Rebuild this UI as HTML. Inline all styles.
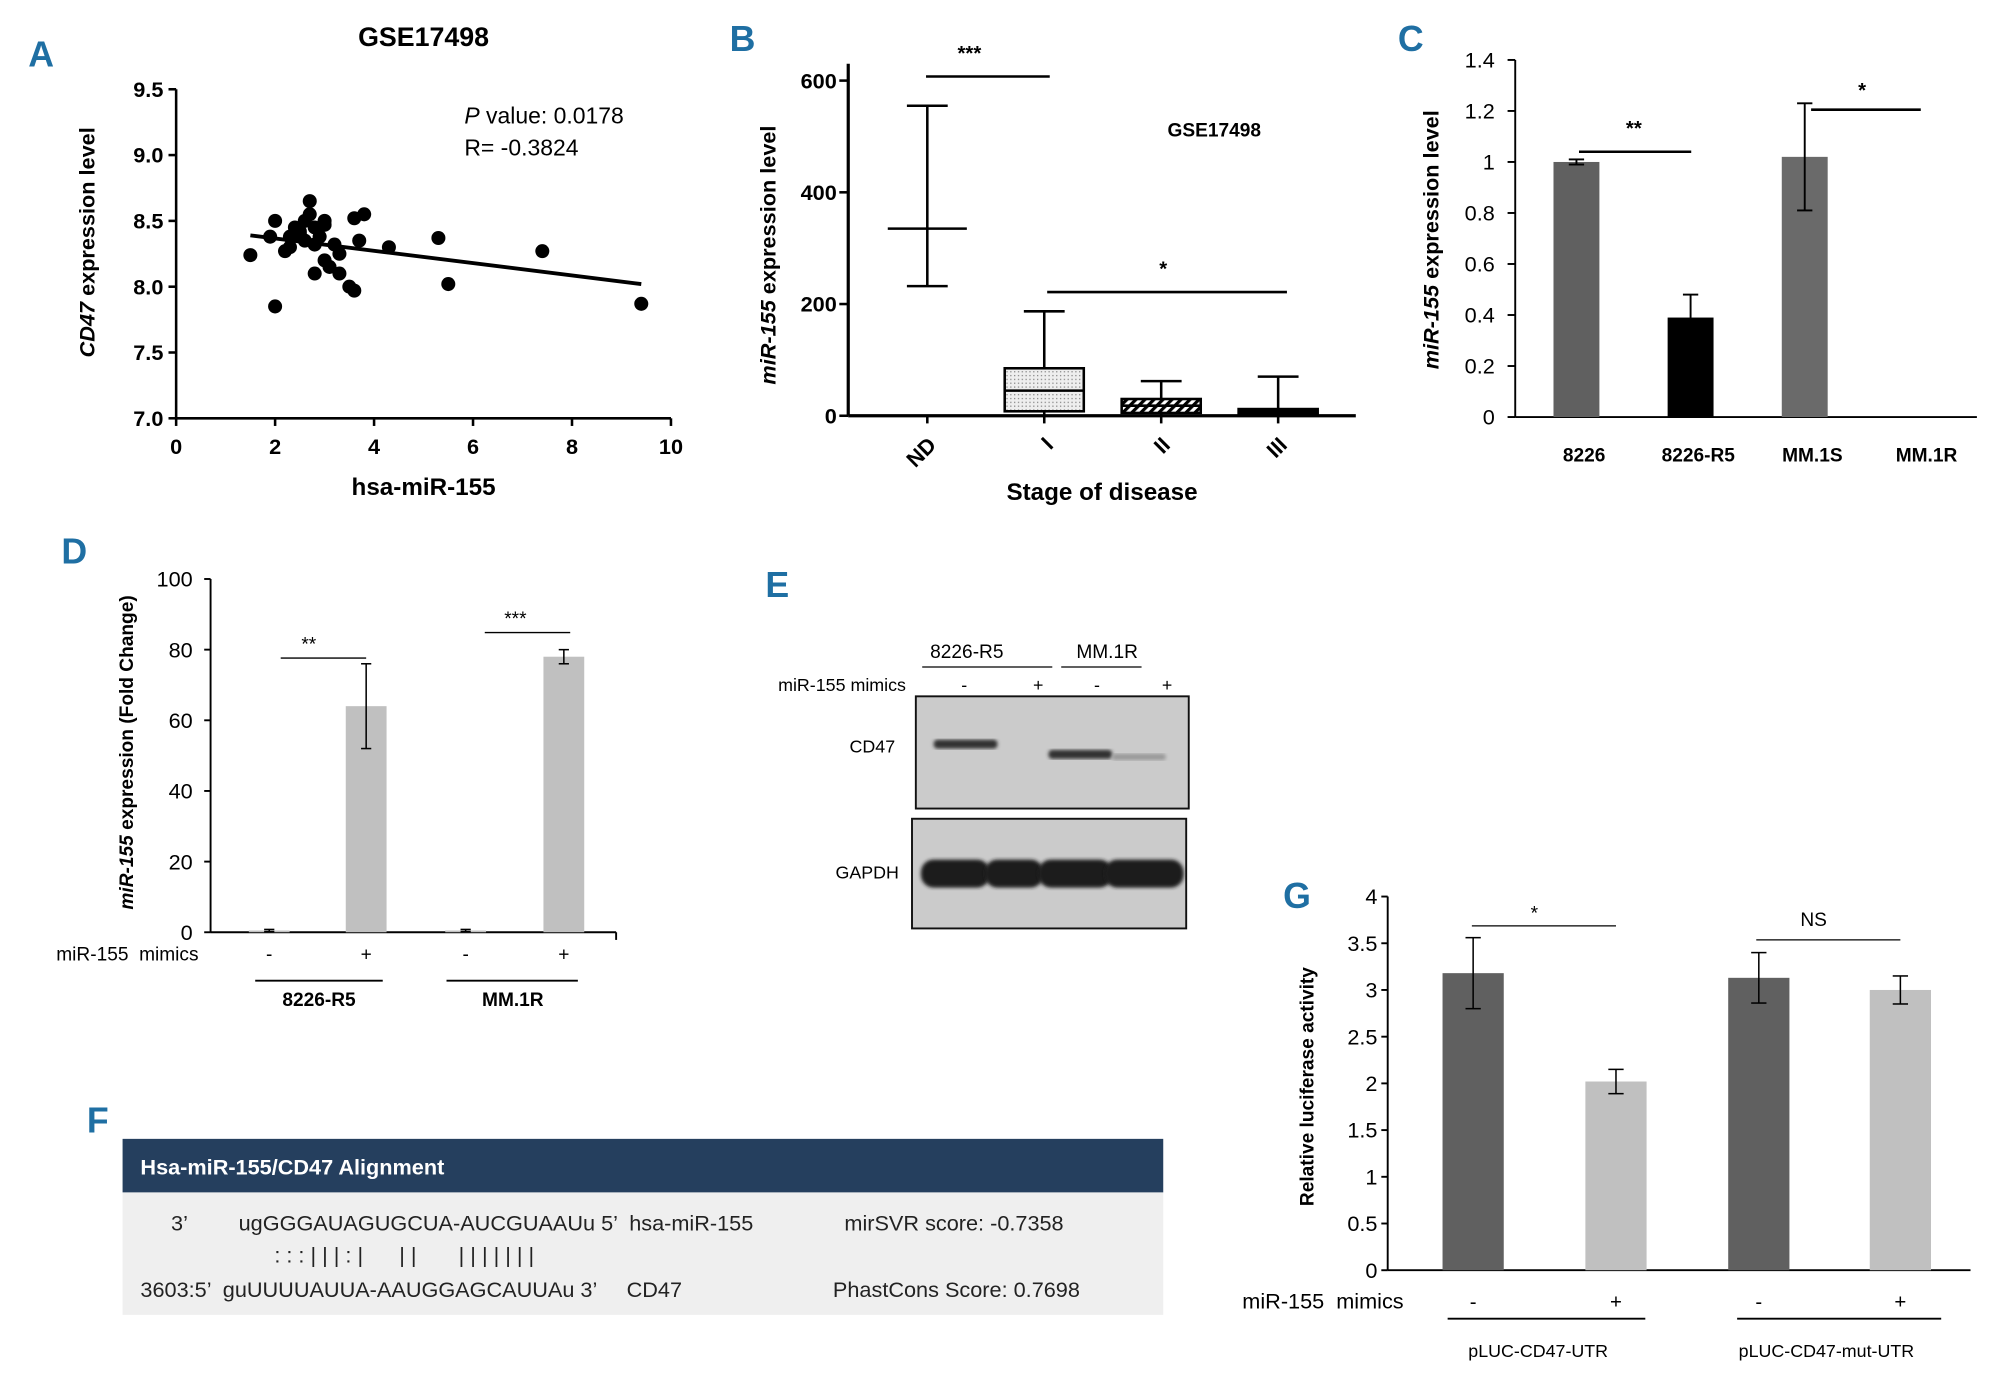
<!DOCTYPE html>
<html><head><meta charset="utf-8"><style>
html,body{margin:0;padding:0;background:#fff}
svg{display:block;font-family:"Liberation Sans",sans-serif}
svg text{white-space:pre}
.pl{fill:#1f6fa3;font-weight:bold;font-size:28px}
.tk{font-size:16px}
</style></head><body>
<svg id="fig" width="2000" height="1385" viewBox="0 0 1568 1086" xmlns="http://www.w3.org/2000/svg">
<g id="A"></g>
<g id="B"></g>
<g id="C"></g>
<g id="D"></g>
<g id="E"></g>
<g id="F"></g>
<g id="G"></g>
</svg>
<script>
// Panel A data
const aX=[1.5,1.9,2.0,2.0,2.2,2.3,2.4,2.5,2.6,2.6,2.7,2.8,2.8,2.7,2.9,3.0,3.0,3.0,2.8,3.1,3.2,3.3,3.3,3.5,3.6,3.7,3.6,3.8,4.3,5.3,5.5,7.4,9.4,2.5,2.3];
const aY=[8.24,8.38,8.5,7.85,8.27,8.3,8.45,8.4,8.5,8.35,8.55,8.45,8.32,8.65,8.38,8.5,8.47,8.2,8.1,8.15,8.32,8.25,8.1,8.0,7.97,8.35,8.52,8.55,8.3,8.37,8.02,8.27,7.87,8.42,8.38];
const aFitX=[1.5,9.4];
const aFitY=[8.39,8.02];
const aXTicks=[0,2,4,6,8,10];
const aYTicks=[7.0,7.5,8.0,8.5,9.0,9.5];
// Panel B data
const bCats=["ND","I","II","III"];
const bLow=[232,0,0,0];
const bQ1=[335,8,5,0];
const bMed=[335,45,18,5];
const bQ3=[335,85,30,12];
const bHigh=[555,187,62,70];
const bTicks=[0,200,400,600];
// Panel C data
const cCats=["8226","8226-R5","MM.1S","MM.1R"];
const cVals=[1.0,0.39,1.02,0];
const cErr=[0.01,0.09,0.21,0];
const cTicks=[0,0.2,0.4,0.6,0.8,1,1.2,1.4];
// Panel D data
const dVals=[0.5,64,0.5,78];
const dErr=[0.3,12,0.3,2];
const dSigns=["-","+","-","+"];
const dTicks=[0,20,40,60,80,100];
// Panel G data
const gVals=[3.18,2.02,3.13,3.0];
const gErr=[0.38,0.13,0.27,0.15];
const gSigns=["-","+","-","+"];
const gTicks=[0,0.5,1,1.5,2,2.5,3,3.5,4];

const NS="http://www.w3.org/2000/svg";
function mk(p,tag,at,txt){const e=document.createElementNS(NS,tag);for(const k in at)e.setAttribute(k,at[k]);if(txt!==undefined)e.textContent=txt;p.appendChild(e);return e;}
function ln(p,x1,y1,x2,y2,w,c){return mk(p,'line',{x1,y1,x2,y2,stroke:c||'#000','stroke-width':w||1.5});}
function fmt(v){return String(v);}

// ---------- A ----------
(function(){const g=document.getElementById('A');
const X=v=>138+v*38.8, Y=v=>328-(v-7)*103.2;
let t=mk(g,'text',{x:22,y:52,class:'pl'},'A');
t=mk(g,'text',{x:332,y:36,'font-size':21,'font-weight':'bold','text-anchor':'middle'},'GSE17498');
ln(g,138,70,138,328,2);ln(g,138,328,526,328,2);
aYTicks.forEach(v=>{ln(g,132,Y(v),138,Y(v),2);let e=mk(g,'text',{x:128,y:Y(v)+6,'text-anchor':'end','font-size':17,'font-weight':'bold'},v.toFixed(1));});
aXTicks.forEach(v=>{ln(g,X(v),328,X(v),334,2);let e=mk(g,'text',{x:X(v),y:356,'text-anchor':'middle','font-size':17,'font-weight':'bold'},fmt(v));});
t=mk(g,'text',{x:332,y:388,'font-size':19,'font-weight':'bold','text-anchor':'middle'},'hsa-miR-155');
t=mk(g,'text',{transform:'translate(74,190) rotate(-90)','font-size':17,'font-weight':'bold','text-anchor':'middle'});t.innerHTML='<tspan font-style="italic">CD47</tspan> expression level';
let f=ln(g,X(aFitX[0]),Y(aFitY[0]),X(aFitX[1]),Y(aFitY[1]),3);
aX.forEach((v,i)=>{let c=mk(g,'circle',{cx:X(v),cy:Y(aY[i]),r:5.5,fill:'#000'});});
t=mk(g,'text',{x:364,y:97,'font-size':18});t.innerHTML='<tspan font-style="italic">P</tspan> value: 0.0178';
t=mk(g,'text',{x:364,y:122,'font-size':18},'R= -0.3824');
})();

// ---------- B ----------
(function(){const g=document.getElementById('B');
const Y=v=>326-v*0.438, XC=i=>727+i*91.7;
let t=mk(g,'text',{x:572,y:40,class:'pl'},'B');
mk(g,'defs',{}).innerHTML='<pattern id="dots" width="3" height="3" patternUnits="userSpaceOnUse"><rect width="3" height="3" fill="#eee"/><rect width="1" height="1" fill="#888"/></pattern><pattern id="hatch" width="5" height="5" patternUnits="userSpaceOnUse" patternTransform="rotate(45)"><rect width="5" height="5" fill="#fff"/><rect width="2.5" height="5" fill="#000"/></pattern>';
ln(g,665,50,665,326,2.5);ln(g,665,326,1063,326,2.5);
bTicks.forEach(v=>{ln(g,658,Y(v),665,Y(v),2);let e=mk(g,'text',{x:656,y:Y(v)+6,'text-anchor':'end','font-size':17,'font-weight':'bold'},fmt(v));});
t=mk(g,'text',{transform:'translate(608,200) rotate(-90)','font-size':17,'font-weight':'bold','text-anchor':'middle'});t.innerHTML='<tspan font-style="italic">miR-155</tspan> expression level';
const fills=['none','url(#dots)','url(#hatch)','#000'];
bCats.forEach((c,i)=>{const x=XC(i),w=31;
 const bg=mk(g,'g',{});
 ln(bg,x,Y(bLow[i]),x,Y(bHigh[i]),2);ln(bg,x-16,Y(bHigh[i]),x+16,Y(bHigh[i]),2);ln(bg,x-16,Y(bLow[i]),x+16,Y(bLow[i]),2);
 if(bQ3[i]>bQ1[i])mk(bg,'rect',{x:x-w,y:Y(bQ3[i]),width:2*w,height:Y(bQ1[i])-Y(bQ3[i]),fill:fills[i],stroke:'#000','stroke-width':2});
 ln(bg,x-w,Y(bMed[i]),x+w,Y(bMed[i]),2);
 let e=mk(g,'text',{transform:`translate(${x+8},${350}) rotate(-45)`,'text-anchor':'end','font-size':17,'font-weight':'bold'},c);
 ln(g,x,326,x,332,2);});
t=mk(g,'text',{x:864,y:392,'font-size':19,'font-weight':'bold','text-anchor':'middle'},'Stage of disease');
ln(g,726,60,823,60,2);mk(g,'text',{x:760,y:47,'font-size':16,'font-weight':'bold','text-anchor':'middle'},'***');
ln(g,821,229,1009,229,2);mk(g,'text',{x:912,y:216,'font-size':16,'font-weight':'bold','text-anchor':'middle'},'*');
t=mk(g,'text',{x:952,y:107,'font-size':15,'font-weight':'bold','text-anchor':'middle'},'GSE17498');
})();

// ---------- C ----------
(function(){const g=document.getElementById('C');
const Y=v=>327-v*200, XC=i=>1236+i*89.5;
let t=mk(g,'text',{x:1096,y:40,class:'pl'},'C');
ln(g,1188,47,1188,327,1.5);ln(g,1188,327,1550,327,1.5);
cTicks.forEach(v=>{ln(g,1182,Y(v),1188,Y(v),1.5);let e=mk(g,'text',{x:1172,y:Y(v)+6,'text-anchor':'end','font-size':17},fmt(v));});
t=mk(g,'text',{transform:'translate(1128,188) rotate(-90)','font-size':17,'font-weight':'bold','text-anchor':'middle'});t.innerHTML='<tspan font-style="italic">miR-155</tspan> expression level';
const cols=['#606060','#000','#6a6a6a','#888'];
cCats.forEach((c,i)=>{const x=XC(i);
 let r=mk(g,'rect',{x:x-18,y:Y(cVals[i]),width:36,height:Y(0)-Y(cVals[i]),fill:cols[i]});
 if(cErr[i]>0){ln(g,x,Y(cVals[i]-cErr[i]),x,Y(cVals[i]+cErr[i]),1.5);ln(g,x-6,Y(cVals[i]+cErr[i]),x+6,Y(cVals[i]+cErr[i]),1.5);ln(g,x-6,Y(cVals[i]-cErr[i]),x+6,Y(cVals[i]-cErr[i]),1.5);}
 let e=mk(g,'text',{x:x+6,y:362,'text-anchor':'middle','font-size':15,'font-weight':'bold'},c);});
ln(g,1238,119,1326,119,2);mk(g,'text',{x:1281,y:106,'font-size':16,'font-weight':'bold','text-anchor':'middle'},'**');
ln(g,1420,86,1506,86,2);mk(g,'text',{x:1460,y:76,'font-size':16,'font-weight':'bold','text-anchor':'middle'},'*');
})();

// ---------- D ----------
(function(){const g=document.getElementById('D');
const Y=v=>731-v*2.77, XC=[211,287,365,442];
let t=mk(g,'text',{x:48,y:442,class:'pl'},'D');
ln(g,165,454,165,731,1.5);ln(g,165,731,483,731,1.5);ln(g,483,731,483,737,1.5);
dTicks.forEach(v=>{ln(g,160,Y(v),165,Y(v),1.5);let e=mk(g,'text',{x:151,y:Y(v)+6,'text-anchor':'end','font-size':17},fmt(v));});
t=mk(g,'text',{transform:'translate(104,590) rotate(-90)','font-size':15,'font-weight':'bold','text-anchor':'middle'});t.innerHTML='<tspan font-style="italic">miR-155</tspan> expression (Fold Change)';
dVals.forEach((v,i)=>{const x=XC[i];
 let r=mk(g,'rect',{x:x-16,y:Y(v),width:32,height:Y(0)-Y(v),fill:'#c0c0c0'});
 ln(g,x,Y(v-dErr[i]),x,Y(v+dErr[i]),1.2);ln(g,x-4,Y(v+dErr[i]),x+4,Y(v+dErr[i]),1.2);ln(g,x-4,Y(v-dErr[i]),x+4,Y(v-dErr[i]),1.2);
 mk(g,'text',{x:x,y:753,'text-anchor':'middle','font-size':15},dSigns[i]);});
mk(g,'text',{x:44,y:753,'font-size':15},'miR-155  mimics');
ln(g,200,769,300,769,1.5);ln(g,350,769,453,769,1.5);
mk(g,'text',{x:250,y:789,'text-anchor':'middle','font-size':15,'font-weight':'bold'},'8226-R5');
mk(g,'text',{x:402,y:789,'text-anchor':'middle','font-size':15,'font-weight':'bold'},'MM.1R');
ln(g,220,516,287,516,1);mk(g,'text',{x:242,y:510,'font-size':15,'text-anchor':'middle'},'**');
ln(g,380,496,447,496,1);mk(g,'text',{x:404,y:490,'font-size':15,'text-anchor':'middle'},'***');
})();

// ---------- E ----------
(function(){const g=document.getElementById('E');
let t=mk(g,'text',{x:600,y:468,class:'pl'},'E');
mk(g,'defs',{}).innerHTML='<filter id="bl"><feGaussianBlur stdDeviation="1.5"/></filter>';
mk(g,'text',{x:758,y:516,'font-size':15,'text-anchor':'middle'},'8226-R5');
mk(g,'text',{x:868,y:516,'font-size':15,'text-anchor':'middle'},'MM.1R');
ln(g,723,523,825,523,1);ln(g,832,523,895,523,1);
mk(g,'text',{x:610,y:542,'font-size':14},'miR-155 mimics');
mk(g,'text',{x:756,y:542,'font-size':14,'text-anchor':'middle'},'-');mk(g,'text',{x:814,y:542,'font-size':14,'text-anchor':'middle'},'+');
mk(g,'text',{x:860,y:542,'font-size':14,'text-anchor':'middle'},'-');mk(g,'text',{x:915,y:542,'font-size':14,'text-anchor':'middle'},'+');
let r=mk(g,'rect',{x:718,y:546,width:214,height:88,fill:'#cbcbcb',stroke:'#111','stroke-width':1.5});
mk(g,'rect',{x:732,y:580,width:50,height:7,rx:3,fill:'#333',filter:'url(#bl)'});
mk(g,'rect',{x:822,y:588,width:50,height:7,rx:3,fill:'#333',filter:'url(#bl)'});
mk(g,'rect',{x:872,y:591,width:42,height:5,rx:2,fill:'#999',filter:'url(#bl)'});
mk(g,'text',{x:666,y:590,'font-size':14},'CD47');
r=mk(g,'rect',{x:715,y:642,width:215,height:86,fill:'#cbcbcb',stroke:'#111','stroke-width':1.5});
[[722,54],[772,46],[814,58],[866,62]].forEach(b=>mk(g,'rect',{x:b[0],y:674,width:b[1],height:22,rx:10,fill:'#1e1e1e',filter:'url(#bl)'}));
mk(g,'text',{x:655,y:689,'font-size':14},'GAPDH');
})();

// ---------- F ----------
(function(){const g=document.getElementById('F');
let t=mk(g,'text',{x:68,y:888,class:'pl'},'F');
let r=mk(g,'rect',{x:96,y:893,width:816,height:42,fill:'#253f5e'});
mk(g,'text',{x:110,y:921,'font-size':17,'font-weight':'bold',fill:'#fff'},'Hsa-miR-155/CD47 Alignment');
r=mk(g,'rect',{x:96,y:935,width:816,height:96,fill:'#efefef'});
const s={'font-size':17,fill:'#222'};
mk(g,'text',Object.assign({x:134,y:965},s),'3\u2019');
mk(g,'text',Object.assign({x:187,y:965},s),'ugGGGAUAGUGCUA-AUCGUAAUu 5\u2019  hsa-miR-155');
mk(g,'text',Object.assign({x:662,y:965},s),'mirSVR score: -0.7358');
mk(g,'text',Object.assign({x:215,y:990},s),': : : | | | : |      | |       | | | | | | |');
mk(g,'text',Object.assign({x:110,y:1017},s),'3603:5\u2019  guUUUUAUUA-AAUGGAGCAUUAu 3\u2019     CD47');
mk(g,'text',Object.assign({x:653,y:1017},s),'PhastCons Score: 0.7698');
})();

// ---------- G ----------
(function(){const g=document.getElementById('G');
const Y=v=>996-v*73.25, XC=[1155,1267,1379,1490];
let t=mk(g,'text',{x:1006,y:712,class:'pl'},'G');
ln(g,1088,703,1088,996,1.5);ln(g,1088,996,1545,996,1.5);
gTicks.forEach(v=>{ln(g,1083,Y(v),1088,Y(v),1.5);let e=mk(g,'text',{x:1080,y:Y(v)+6,'text-anchor':'end','font-size':17},fmt(v));});
t=mk(g,'text',{transform:'translate(1030,852) rotate(-90)','font-size':15,'font-weight':'bold','text-anchor':'middle'},'Relative luciferase activity');
const cols=['#606060','#c0c0c0','#606060','#c0c0c0'];
gVals.forEach((v,i)=>{const x=XC[i];
 let r=mk(g,'rect',{x:x-24,y:Y(v),width:48,height:Y(0)-Y(v),fill:cols[i]});
 ln(g,x,Y(v-gErr[i]),x,Y(v+gErr[i]),1.2);ln(g,x-6,Y(v+gErr[i]),x+6,Y(v+gErr[i]),1.2);ln(g,x-6,Y(v-gErr[i]),x+6,Y(v-gErr[i]),1.2);
 mk(g,'text',{x:x,y:1026,'text-anchor':'middle','font-size':16},gSigns[i]);});
mk(g,'text',{x:974,y:1026,'font-size':17},'miR-155  mimics');
ln(g,1135,1034,1290,1034,1.5);ln(g,1362,1034,1522,1034,1.5);
mk(g,'text',{x:1206,y:1064,'text-anchor':'middle','font-size':14},'pLUC-CD47-UTR');
mk(g,'text',{x:1432,y:1064,'text-anchor':'middle','font-size':14},'pLUC-CD47-mut-UTR');
ln(g,1154,726,1267,726,1);mk(g,'text',{x:1203,y:721,'font-size':15,'text-anchor':'middle'},'*');
ln(g,1377,737,1490,737,1);mk(g,'text',{x:1422,y:726,'font-size':15,'text-anchor':'middle'},'NS');
})();
</script>
</body></html>
